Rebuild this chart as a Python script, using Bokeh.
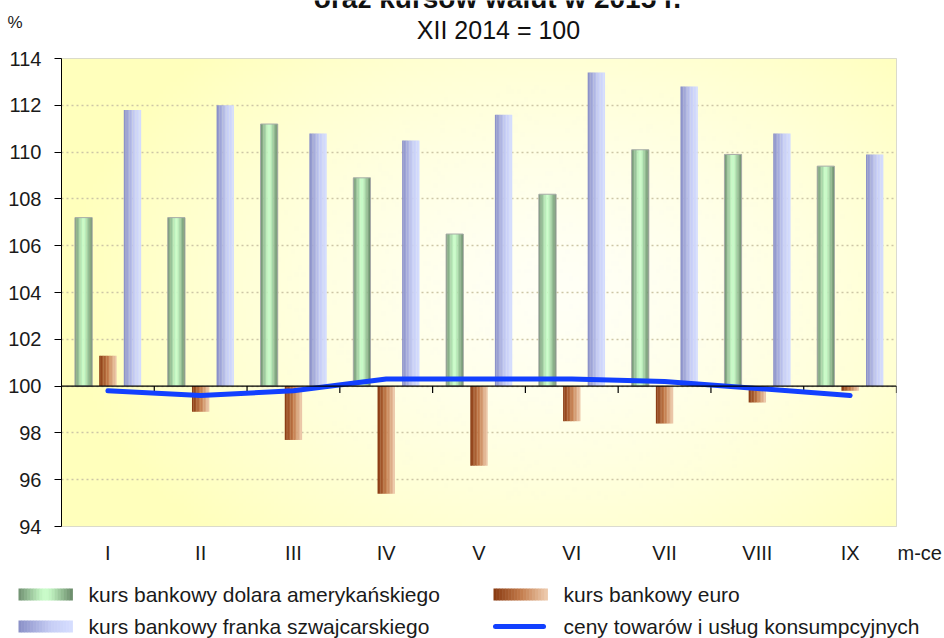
import numpy as np
from bokeh.plotting import figure
from bokeh.layouts import column, row
from bokeh.models import (ColumnDataSource, FactorRange, Range1d, Span, FixedTicker)
from bokeh.transform import dodge
from bokeh.core.properties import value
from bokeh.embed import file_html
from bokeh.resources import INLINE

# ---------------- data ----------------
months = ["I", "II", "III", "IV", "V", "VI", "VII", "VIII", "IX"]
usd = [107.2, 107.2, 111.2, 108.9, 106.5, 108.2, 110.1, 109.9, 109.4]
eur = [101.3, 98.9, 97.7, 95.4, 96.6, 98.5, 98.4, 99.3, 99.8]
chf = [111.8, 112.0, 110.8, 110.5, 111.6, 113.4, 112.8, 110.8, 109.9]
cpi = [99.8, 99.6, 99.8, 100.3, 100.3, 100.3, 100.2, 99.9, 99.6]
y_ticks = [94, 96, 98, 100, 102, 104, 106, 108, 110, 112, 114]
base_value = 100

title_line = "oraz kursów walut w 2015 r."
subtitle = "XII 2014 = 100"
unit_label = "%"
x_unit_label = "m-ce"
names = ["kurs bankowy dolara amerykańskiego", "kurs bankowy euro",
         "kurs bankowy franka szwajcarskiego", "ceny towarów i usług konsumpcyjnych"]

FONT = "Liberation Sans"
TXT = "#1a1a1a"

green_stops = [(0, "#6e8e6f"), (0.4, "#bff2bf"), (0.5, "#ccffcc"), (0.6, "#bff2bf"), (1, "#688868")]
brown_stops = [(0, "#873810"), (0.5, "#c27a4a"), (1, "#efcdb0")]
blue_stops = [(0, "#888ec6"), (0.6, "#c6cdf5"), (1, "#d6deff")]
line_color = "#1240ff"


def hex2rgb(h):
    h = h.lstrip("#")
    return [int(h[i:i + 2], 16) for i in (0, 2, 4)]


def grad(stops, n):
    out = []
    for i in range(n):
        tt = (i + 0.5) / n
        for (a, ca), (b, cb) in zip(stops[:-1], stops[1:]):
            if a <= tt <= b:
                f = (tt - a) / (b - a)
                c1, c2 = hex2rgb(ca), hex2rgb(cb)
                c = [round(c1[k] + (c2[k] - c1[k]) * f) for k in range(3)]
                out.append("#%02x%02x%02x" % tuple(c))
                break
    return out


def no_align(f):
    try:
        f.frame_align = False
    except Exception:
        pass
    return f


def blank_fig(w, h):
    f = figure(width=w, height=h, x_range=Range1d(0, w), y_range=Range1d(h, 0),
               output_backend="svg", toolbar_location=None, title=None,
               x_axis_type=None, y_axis_type=None,
               min_border_left=0, min_border_right=0, min_border_top=0,
               min_border_bottom=0)
    f.outline_line_color = None
    f.background_fill_color = "white"
    f.border_fill_color = "white"
    return no_align(f)


W_TOTAL = 944
TOP_H = 46
MAIN_H = 520
LEG_H = 638 - TOP_H - MAIN_H
MAIN_W = 897

# ---------------- header ----------------
top = blank_fig(W_TOTAL, TOP_H)
top.text(x=[497], y=[-2], text=[title_line], text_font=value(FONT),
         text_font_size=value("28px"), text_font_style="bold", text_align="center",
         text_baseline="middle", text_color="#111111")
top.text(x=[498], y=[29], text=[subtitle], text_font=value(FONT),
         text_font_size=value("25px"), text_align="center", text_baseline="middle",
         text_color="#111111")
top.text(x=[7], y=[22], text=[unit_label], text_font=value(FONT),
         text_font_size=value("17px"), text_align="left", text_baseline="middle",
         text_color=TXT)

# ---------------- main chart ----------------
src = ColumnDataSource(dict(month=months, usd=usd, eur=eur, chf=chf, cpi=cpi,
                            base=[base_value] * len(months)))

p = figure(width=MAIN_W, height=MAIN_H, x_range=FactorRange(*months),
           y_range=Range1d(y_ticks[0], y_ticks[-1]),
           output_backend="svg", toolbar_location=None, title=None,
           min_border_left=61, min_border_right=1, min_border_top=12,
           min_border_bottom=40)
no_align(p)
p.background_fill_color = "#ffffd0"
p.border_fill_color = "white"
p.outline_line_color = "#cfcfcf"

# background gradient (decorative)
H, W = 120, 240
yy, xx = np.mgrid[0:H, 0:W]
fx = xx / (W - 1)
fy = yy / (H - 1)
t = np.clip(np.sqrt(((fx - 0.6) / 0.6) ** 2 + ((fy - 0.5) / 0.75) ** 2), 0, 1) ** 1.4
edge = np.array([255, 255, 188])
center = np.array([255, 255, 246])
rgb = center[None, None, :] * (1 - t[..., None]) + edge[None, None, :] * t[..., None]
img = np.empty((H, W), dtype=np.uint32)
view = img.view(dtype=np.uint8).reshape((H, W, 4))
view[..., 0] = rgb[..., 0]
view[..., 1] = rgb[..., 1]
view[..., 2] = rgb[..., 2]
view[..., 3] = 255
p.image_rgba(image=[img], x=0, y=y_ticks[0], dw=len(months),
             dh=y_ticks[-1] - y_ticks[0], level="image")

p.xgrid.grid_line_color = None
p.ygrid.grid_line_color = "#cdc6a6"
p.ygrid.grid_line_dash = "2 3"
p.ygrid.grid_line_width = 1.6
p.ygrid.ticker = FixedTicker(ticks=y_ticks)

p.yaxis.ticker = FixedTicker(ticks=y_ticks)
p.yaxis.axis_line_color = "black"
p.yaxis.major_tick_line_color = "black"
p.yaxis.major_tick_in = 0
p.yaxis.major_tick_out = 7
p.yaxis.minor_tick_line_color = None
p.yaxis.major_label_standoff = 13
p.yaxis.major_label_text_font = FONT
p.yaxis.major_label_text_font_size = "20px"
p.yaxis.major_label_text_color = TXT

p.xaxis.axis_line_color = None
p.xaxis.major_tick_line_color = None
p.xaxis.minor_tick_line_color = None
p.xaxis.major_tick_out = 0
p.xaxis.major_label_standoff = 15
p.xaxis.major_label_text_font = FONT
p.xaxis.major_label_text_font_size = "20px"
p.xaxis.major_label_text_color = TXT

bar_w = 0.185
n_slices = 12
series = [("usd", -0.262, green_stops, "#a8aca8"),
          ("eur", 0.0, brown_stops, None),
          ("chf", 0.265, blue_stops, None)]
for key, off, stops, border in series:
    cols = grad(stops, n_slices)
    sw = bar_w / n_slices
    for i, c in enumerate(cols):
        pos = off - bar_w / 2 + (i + 0.5) * sw
        p.vbar(x=dodge("month", pos, range=p.x_range), top=key, bottom="base",
               width=sw * 1.15, source=src, fill_color=c, line_color=None)
    if border:
        p.vbar(x=dodge("month", off, range=p.x_range), top=key, bottom="base",
               width=bar_w, source=src, fill_color=None, line_color=border,
               line_width=1)

p.add_layout(Span(location=base_value, dimension="width", line_color="black",
                  line_width=1.2))
bounds = list(range(1, len(months) + 1))
p.segment(x0=bounds, y0=[base_value] * len(bounds), x1=bounds,
          y1=[base_value - 0.3] * len(bounds), line_color="black", line_width=1.2)

p.line(x="month", y="cpi", source=src, line_color=line_color,
       line_width=5, line_cap="round", line_join="round")

# right strip with the x-unit label
side = blank_fig(W_TOTAL - MAIN_W, MAIN_H)
side.text(x=[0], y=[506], text=[x_unit_label], text_font=value(FONT),
          text_font_size=value("20px"), text_align="left", text_baseline="middle",
          text_color=TXT)

# ---------------- legend ----------------
leg = blank_fig(W_TOTAL, LEG_H)
row_y = [28, 60]
entries = [  # (marker x, row, label index, gradient)
    (18, 0, 0, green_stops), (18, 1, 2, blue_stops),
    (493, 0, 1, brown_stops), (493, 1, 3, None)]
mk_w, mk_h = 54, 12
for x0, r, li, stops in entries:
    yc = row_y[r]
    if stops is not None:
        n = 18
        cols = grad(stops, n)
        sw = mk_w / n
        leg.quad(left=[x0 + i * sw for i in range(n)],
                 right=[x0 + (i + 1) * sw + 0.4 for i in range(n)],
                 top=[yc - mk_h / 2] * n, bottom=[yc + mk_h / 2] * n,
                 fill_color=cols, line_color=None)
    else:
        leg.line(x=[x0 + 2, x0 + mk_w - 4], y=[yc, yc], line_color=line_color,
                 line_width=5, line_cap="round")
    leg.text(x=[x0 + 70], y=[yc], text=[names[li]], text_font=value(FONT),
             text_font_size=value("21px"), text_align="left",
             text_baseline="middle", text_color=TXT)

layout = column(top, row(p, side), leg, spacing=0)
open("out.html", "w").write(file_html(layout, INLINE))
